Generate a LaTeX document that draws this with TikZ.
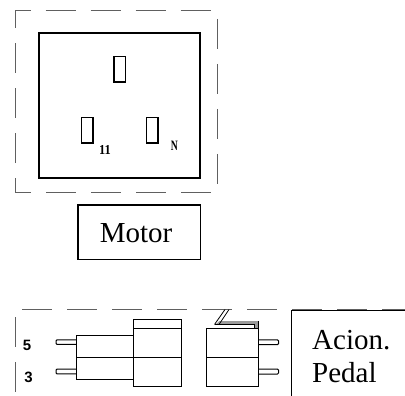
\documentclass[tikz,border=0pt]{standalone}
\usepackage{fontspec}
\setmainfont{Liberation Serif}
\newfontfamily\digitfont{Liberation Sans}
\usepackage{xcolor}
\definecolor{ink}{HTML}{000000}
\definecolor{muted}{HTML}{606060}
\definecolor{band}{HTML}{9A9A9A}
\tikzset{
  frame/.style={line width=1pt, draw=muted, dash pattern=on 30pt off 15pt},
  boxline/.style={line width=1.5pt, draw=ink},
  part/.style={line width=1pt, draw=ink},
  slot/.style={line width=1.3pt, draw=ink},
  pin/.style={line width=1pt, draw=ink, rounded corners=1pt},
  lab/.style={text=ink, font=\fontsize{29}{31}\selectfont, inner sep=0pt},
  tiny/.style={text=ink, font=\fontsize{13}{14}\selectfont\bfseries, inner sep=0pt},
  num/.style={text=ink, font=\digitfont\fontsize{15}{16}\selectfont\bfseries, inner sep=0pt}
}
\begin{document}
\begin{tikzpicture}[x=1pt,y=-1pt]
  \useasboundingbox (0,0) rectangle (405,396);

  % socket
  \draw[frame] (15,25)--(15,10.5)--(217,10.5)--(217,192.5)--(15,192.5)--cycle;
  \draw[boxline] (39,33) rectangle (200,178);
  \foreach \x/\y in {114/56.5,81.5/117.5,146.5/117.5}{
    \draw[slot] (\x,\y) rectangle ++(11.5,25.5);
  }
  \node[tiny] (n11) at (105,150) {\scalebox{0.95}[1.05]{11}};
  \node[tiny] (nN) at (174.5,146) {\scalebox{0.75}[1.1]{N}};

  % motor box
  \draw[boxline] (78,205) rectangle (200.5,259.5);
  \node[lab] (motor) at (136,233) {Motor};

  % lower frame
  \draw[frame] (22,309.5)--(405,309.5);
  \draw[frame] (15,317)--(15,396);

  % left part
  \draw[part] (76,335.5) rectangle (133.5,379.5);
  \draw[part] (133.5,319) rectangle (181.5,386.5);
  \draw[part] (133.5,328.3)--(181.5,328.3);
  \draw[part] (76,357.5)--(181.5,357.5);
  \foreach \y in {339.8,369.2}{
    \draw[pin] (76,\y)--(56,\y)--(56,\y+4.6)--(76,\y+4.6);
  }

  % right part
  \fill[band] (215,325)--(219.5,321)--(258,321)--(258,328.3)--(254.5,328.3)--(254.5,324.5)--cycle;
  \draw[part] (206,328.3) rectangle (258,386.5);
  \draw[part] (206,357.5)--(258,357.5);
  \draw[part,line width=0.8pt] (214.5,324.5)--(225,309.5);
  \draw[part,line width=0.8pt] (219,324.5)--(229,309.5);
  \draw[part,line width=0.8pt] (214.5,324.5)--(254.5,324.5)--(254.5,328.3);
  \draw[part,line width=0.8pt] (258,328.3)--(258,321);
  \foreach \y in {339.8,369.2}{
    \draw[pin] (258,\y)--(278.5,\y)--(278.5,\y+4.8)--(258,\y+4.8);
  }

  % pedal box
  \draw[boxline] (291.5,396)--(291.5,310.5)--(405,310.5);
  \node[lab,anchor=base west] (acion) at (312,349) {Acion.};
  \node[lab,anchor=base west] (pedal) at (312,382) {Pedal};

  % pin numbers
  \node[num] (n5) at (27,345.5) {5};
  \node[num] (n3) at (28.5,377.5) {3};
\end{tikzpicture}
\end{document}
